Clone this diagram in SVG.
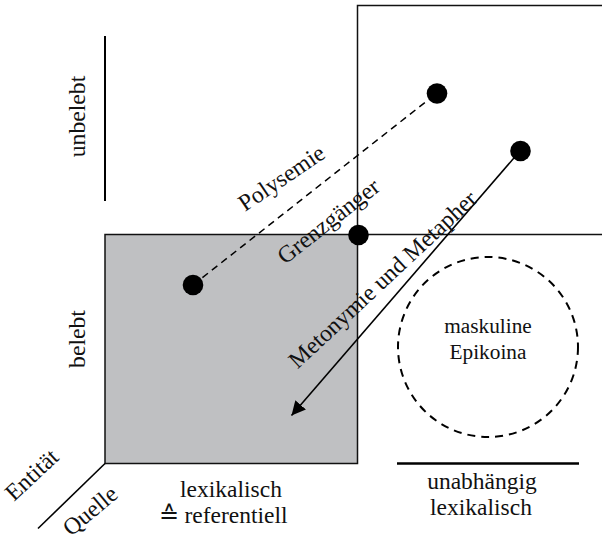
<svg xmlns="http://www.w3.org/2000/svg" width="602" height="547" viewBox="0 0 602 547">
<style>
text{font-family:"Liberation Serif","Times New Roman",serif;fill:#111}
.h{font-size:23.5px;text-anchor:middle}
.s{font-size:21.3px;text-anchor:middle}
.r{font-size:23.7px}
.ln{stroke:#111;fill:none;stroke-width:1.5}
.dot{fill:#000}
</style>
<defs>
<marker id="ah" viewBox="0 0 10 10" refX="10" refY="5" markerWidth="14" markerHeight="14" markerUnits="userSpaceOnUse" orient="auto">
<path d="M0,0 L10,5 L0,10 Z" fill="#000"/>
</marker>
</defs>
<rect width="602" height="547" fill="#fff"/>
<g id="quadrants">
<rect id="lexref" x="105" y="234.5" width="252.5" height="229" fill="#bfc0c2" stroke="#111" stroke-width="1.5"/>
<path class="ln" d="M602,5.5 H357.5 V234.5 M357.5,234.5 H602"/>
</g>
<g id="axes">
<line x1="105" y1="36" x2="105" y2="201" stroke="#000" stroke-width="2"/>
<line x1="105" y1="463.5" x2="38" y2="528.5" stroke="#000" stroke-width="1.6"/>
<line x1="397" y1="463.5" x2="579" y2="463.5" stroke="#000" stroke-width="2.5"/>
</g>
<g id="connectors">
<line x1="193" y1="285" x2="437" y2="93" stroke="#000" stroke-width="1.5" stroke-dasharray="7,5"/>
<line x1="520" y1="151" x2="291.5" y2="415.5" stroke="#000" stroke-width="1.6" marker-end="url(#ah)"/>
</g>
<g id="epikoina">
<circle cx="488" cy="347" r="90" fill="none" stroke="#000" stroke-width="2" stroke-dasharray="8,6"/>
<text class="s" x="488" y="333">maskuline</text>
<text class="s" x="488" y="359">Epikoina</text>
</g>
<g id="node-polysemie-a"><circle class="dot" cx="193" cy="285" r="10.3"/></g>
<g id="node-polysemie-b"><circle class="dot" cx="437" cy="93.5" r="10.3"/></g>
<g id="node-metapher"><circle class="dot" cx="520.5" cy="151" r="10.3"/></g>
<g id="node-grenzgaenger"><circle class="dot" cx="358.5" cy="235" r="10.3"/></g>
<g id="labels">
<text class="r" text-anchor="middle" transform="translate(85,116.5) rotate(-90)">unbelebt</text>
<text class="r" text-anchor="middle" transform="translate(85,339) rotate(-90)">belebt</text>
<text class="r" transform="translate(245,212) rotate(-34)">Polysemie</text>
<text class="r" transform="translate(285,265) rotate(-38)">Grenzgänger</text>
<text class="r" transform="translate(297.5,369.5) rotate(-43)">Metonymie und Metapher</text>
<text class="r" transform="translate(14,502) rotate(-43)">Entität</text>
<text class="r" transform="translate(71,537) rotate(-40)">Quelle</text>
<text class="h" x="231" y="497">lexikalisch</text>
<text class="h" x="223" y="523">≙ referentiell</text>
<text class="h" x="482" y="489">unabhängig</text>
<text class="h" x="481" y="515">lexikalisch</text>
</g>
</svg>
